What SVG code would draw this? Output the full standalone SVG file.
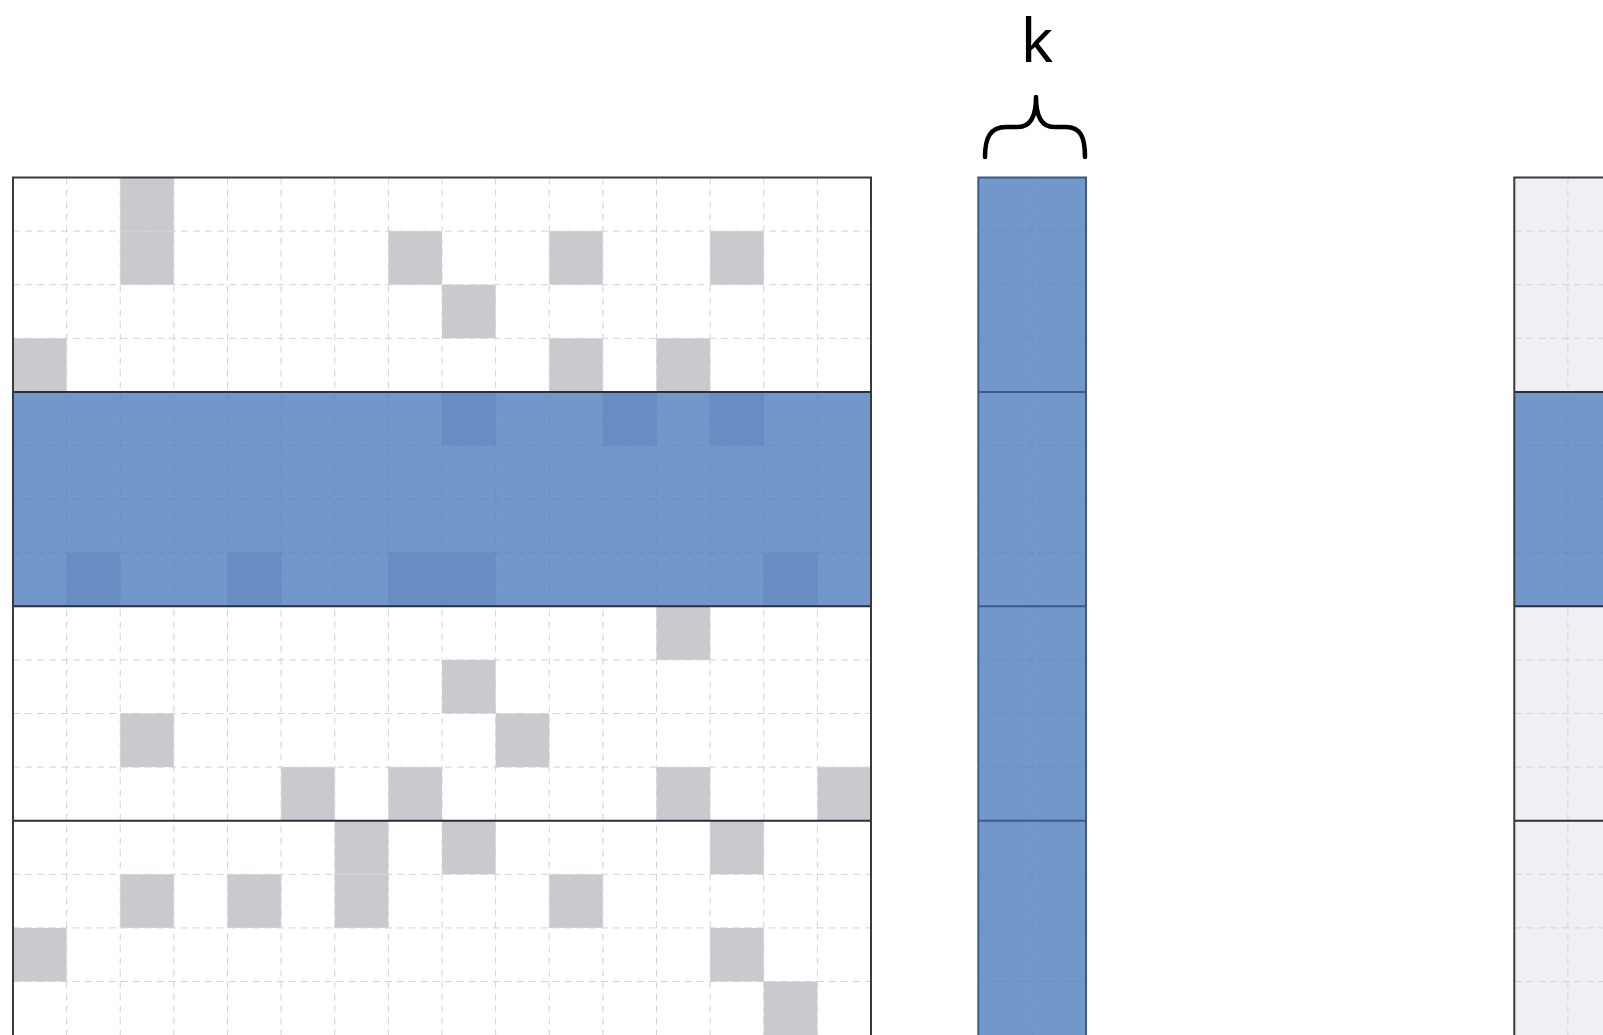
<svg xmlns="http://www.w3.org/2000/svg" width="1603" height="1035" viewBox="0 0 1603 1035">
<style>
.grid{stroke:#d4d4d6;stroke-width:1;stroke-dasharray:7 5;fill:none}
.bgrid{stroke:#5f82b6;stroke-opacity:0.35;stroke-width:1;stroke-dasharray:7 5;fill:none}
.sep{stroke:#2a2f3a;stroke-width:2;fill:none}
.bsep{stroke:#3f5a85;stroke-width:2;fill:none}
.cell{fill:#c9cacd}
.dcell{fill:#698dc2}
.blue{fill:#7297ca}
.frame{fill:none;stroke:#3a3a3a;stroke-width:2}
.lbl{font-family:"Noto Sans","Open Sans",sans-serif;font-size:61px;fill:#000}
</style>
<rect width="1603" height="1035" fill="#ffffff"/>

<g id="matrix-left">
<rect x="13" y="177.5" width="858" height="860" fill="#ffffff"/>
<g>
<rect class="cell" x="120.25" y="177.5" width="53.625" height="53.6"/>
<rect class="cell" x="120.25" y="231.1" width="53.625" height="53.6"/>
<rect class="cell" x="388.375" y="231.1" width="53.625" height="53.6"/>
<rect class="cell" x="549.25" y="231.1" width="53.625" height="53.6"/>
<rect class="cell" x="710.125" y="231.1" width="53.625" height="53.6"/>
<rect class="cell" x="442" y="284.7" width="53.625" height="53.6"/>
<rect class="cell" x="13" y="338.3" width="53.625" height="53.6"/>
<rect class="cell" x="549.25" y="338.3" width="53.625" height="53.6"/>
<rect class="cell" x="656.5" y="338.3" width="53.625" height="53.6"/>
<rect class="cell" x="656.5" y="606.3" width="53.625" height="53.6"/>
<rect class="cell" x="442" y="659.9" width="53.625" height="53.6"/>
<rect class="cell" x="120.25" y="713.5" width="53.625" height="53.6"/>
<rect class="cell" x="495.625" y="713.5" width="53.625" height="53.6"/>
<rect class="cell" x="281.125" y="767.1" width="53.625" height="53.6"/>
<rect class="cell" x="388.375" y="767.1" width="53.625" height="53.6"/>
<rect class="cell" x="656.5" y="767.1" width="53.625" height="53.6"/>
<rect class="cell" x="817.375" y="767.1" width="53.625" height="53.6"/>
<rect class="cell" x="334.75" y="820.7" width="53.625" height="53.6"/>
<rect class="cell" x="442" y="820.7" width="53.625" height="53.6"/>
<rect class="cell" x="710.125" y="820.7" width="53.625" height="53.6"/>
<rect class="cell" x="120.25" y="874.3" width="53.625" height="53.6"/>
<rect class="cell" x="227.5" y="874.3" width="53.625" height="53.6"/>
<rect class="cell" x="334.75" y="874.3" width="53.625" height="53.6"/>
<rect class="cell" x="549.25" y="874.3" width="53.625" height="53.6"/>
<rect class="cell" x="13" y="927.9" width="53.625" height="53.6"/>
<rect class="cell" x="710.125" y="927.9" width="53.625" height="53.6"/>
<rect class="cell" x="763.75" y="981.5" width="53.625" height="53.6"/>
</g>
<path class="grid" d="M66.625 177.5V1035M120.25 177.5V1035M173.875 177.5V1035M227.5 177.5V1035M281.125 177.5V1035M334.75 177.5V1035M388.375 177.5V1035M442 177.5V1035M495.625 177.5V1035M549.25 177.5V1035M602.875 177.5V1035M656.5 177.5V1035M710.125 177.5V1035M763.75 177.5V1035M817.375 177.5V1035"/>
<path class="grid" d="M13 231.1H871M13 284.7H871M13 338.3H871M13 659.9H871M13 713.5H871M13 767.1H871M13 874.3H871M13 927.9H871M13 981.5H871"/>
<rect class="blue" x="13" y="391.9" width="858" height="214.4"/>
<rect class="dcell" x="442" y="391.9" width="53.625" height="53.6"/>
<rect class="dcell" x="602.875" y="391.9" width="53.625" height="53.6"/>
<rect class="dcell" x="710.125" y="391.9" width="53.625" height="53.6"/>
<rect class="dcell" x="66.625" y="552.7" width="53.625" height="53.6"/>
<rect class="dcell" x="227.5" y="552.7" width="53.625" height="53.6"/>
<rect class="dcell" x="388.375" y="552.7" width="53.625" height="53.6"/>
<rect class="dcell" x="442" y="552.7" width="53.625" height="53.6"/>
<rect class="dcell" x="763.75" y="552.7" width="53.625" height="53.6"/>
<path class="bgrid" d="M66.625 391.9V606.3M120.25 391.9V606.3M173.875 391.9V606.3M227.5 391.9V606.3M281.125 391.9V606.3M334.75 391.9V606.3M388.375 391.9V606.3M442 391.9V606.3M495.625 391.9V606.3M549.25 391.9V606.3M602.875 391.9V606.3M656.5 391.9V606.3M710.125 391.9V606.3M763.75 391.9V606.3M817.375 391.9V606.3M13 445.5H871M13 499.1H871M13 552.7H871"/>
<path class="sep" d="M13 391.9H871M13 606.3H871M13 820.7H871"/>
<rect class="frame" x="13" y="177.5" width="858" height="870"/>
</g>

<g id="vector-k">
<rect class="blue" x="978.3" y="177.5" width="107.7" height="870" stroke="#3f5a85" stroke-width="2"/>
<path class="bgrid" d="M1032.15 177.5V1035M978.3 231.1H1086M978.3 284.7H1086M978.3 338.3H1086M978.3 445.5H1086M978.3 499.1H1086M978.3 552.7H1086M978.3 659.9H1086M978.3 713.5H1086M978.3 767.1H1086M978.3 874.3H1086M978.3 927.9H1086M978.3 981.5H1086"/>
<path class="bsep" d="M978.3 391.9H1086M978.3 606.3H1086M978.3 820.7H1086"/>
</g>

<g id="label-k">
<path d="M985 157C985 138 990 127 1006 127L1018 127C1031 127 1036 116 1036 97C1036 116 1041 127 1054 127L1066 127C1081 127 1085 138 1085 157" fill="none" stroke="#000" stroke-width="4.5" stroke-linecap="round" stroke-linejoin="round"/>
<text class="lbl" x="1037" y="62" text-anchor="middle">k</text>
</g>

<g id="matrix-right">
<rect x="1514.3" y="177.5" width="200" height="870" fill="#f0f0f4"/>
<path class="grid" d="M1567.9 177.5V1035M1514.3 231.1H1603M1514.3 284.7H1603M1514.3 338.3H1603M1514.3 659.9H1603M1514.3 713.5H1603M1514.3 767.1H1603M1514.3 874.3H1603M1514.3 927.9H1603M1514.3 981.5H1603"/>
<rect class="blue" x="1514.3" y="391.9" width="100" height="214.4"/>
<path class="bgrid" d="M1567.9 391.9V606.3M1514.3 445.5H1603M1514.3 499.1H1603M1514.3 552.7H1603"/>
<path class="sep" d="M1514.3 391.9H1603M1514.3 606.3H1603M1514.3 820.7H1603"/>
<path class="frame" d="M1603 177.5H1514.3V1035"/>
</g>

<g id="connectors"/>
</svg>
